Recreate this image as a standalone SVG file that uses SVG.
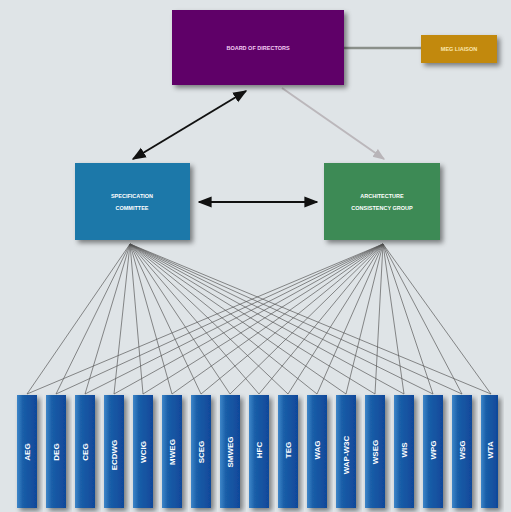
<svg xmlns="http://www.w3.org/2000/svg" width="511" height="512" viewBox="0 0 511 512">
<defs>
<filter id="sh" x="-20%" y="-20%" width="150%" height="150%"><feDropShadow dx="3" dy="3" stdDeviation="2.5" flood-color="#000" flood-opacity="0.45"/></filter>
<linearGradient id="bar" x1="0" y1="0" x2="1" y2="0"><stop offset="0" stop-color="#3d86c8"/><stop offset="0.3" stop-color="#1a5ea8"/><stop offset="1" stop-color="#10489a"/></linearGradient>
<marker id="ah" viewBox="0 0 10 10" refX="9" refY="5" markerWidth="7" markerHeight="7" orient="auto-start-reverse"><path d="M0,1 L10,5 L0,9 Z" fill="#111"/></marker>
<marker id="ahg" viewBox="0 0 10 10" refX="9" refY="5" markerWidth="6" markerHeight="6" orient="auto"><path d="M0,1 L10,5 L0,9 Z" fill="#b8b4b8"/></marker>
</defs>
<style>
.t{font-family:"Liberation Sans",Arial,sans-serif;font-weight:bold;fill:#fff;text-anchor:middle}
.s{font-size:5.5px}
.b{font-size:8px}
.f{stroke:#5a5a5a;stroke-width:0.7;fill:none}
</style>
<rect width="511" height="512" fill="#dfe4e7"/>
<g id="connectors">
<line x1="344" y1="48" x2="421" y2="48" stroke="#8a8f8a" stroke-width="2.5"/>
<line x1="246" y1="91" x2="133" y2="159" stroke="#111" stroke-width="2" marker-start="url(#ah)" marker-end="url(#ah)"/>
<line x1="282" y1="88" x2="384" y2="159" stroke="#bbb7bb" stroke-width="2" marker-end="url(#ahg)"/>
<line x1="199" y1="202" x2="317" y2="202" stroke="#111" stroke-width="2" marker-start="url(#ah)" marker-end="url(#ah)"/>
<g class="f">
<path d="M130,244L27,394M130,244L56,394M130,244L85,394M130,244L114,394M130,244L143,394M130,244L172,394M130,244L201,394M130,244L230,394M130,244L259,394M130,244L288,394M130,244L317,394M130,244L346,394M130,244L375,394M130,244L404,394M130,244L433,394M130,244L462,394M130,244L491,394"/>
<path d="M383,244L27,394M383,244L56,394M383,244L85,394M383,244L114,394M383,244L143,394M383,244L172,394M383,244L201,394M383,244L230,394M383,244L259,394M383,244L288,394M383,244L317,394M383,244L346,394M383,244L375,394M383,244L404,394M383,244L433,394M383,244L462,394M383,244L491,394"/>
</g>
</g>
<g id="board">
<rect x="172" y="10" width="172" height="75" fill="#5e0667" filter="url(#sh)"/>
<text class="t s" x="258" y="50" fill="#f0c8f0" style="fill:#f3cdf3">BOARD OF DIRECTORS</text>
</g>
<g id="liaison">
<rect x="421" y="35" width="76" height="28" fill="#c2890f" filter="url(#sh)"/>
<text class="t s" x="459" y="51" style="fill:#fbe8b0">MEG LIAISON</text>
</g>
<g id="spec">
<rect x="75" y="163" width="115" height="77" fill="#1b78a9" filter="url(#sh)"/>
<text class="t s" x="132" y="198">SPECIFICATION</text>
<text class="t s" x="132" y="210">COMMITTEE</text>
</g>
<g id="arch">
<rect x="324" y="163" width="116" height="77" fill="#3e8a55" filter="url(#sh)"/>
<text class="t s" x="382" y="198">ARCHITECTURE</text>
<text class="t s" x="382" y="210">CONSISTENCY GROUP</text>
</g>
<g id="groups">
<g id="g1"><rect x="17" y="395" width="20" height="113" fill="url(#bar)" filter="url(#sh)"/><text class="t b" transform="translate(30,452) rotate(-90)">AEG</text></g>
<g id="g2"><rect x="46" y="395" width="20" height="113" fill="url(#bar)" filter="url(#sh)"/><text class="t b" transform="translate(59,452) rotate(-90)">DEG</text></g>
<g id="g3"><rect x="75" y="395" width="20" height="113" fill="url(#bar)" filter="url(#sh)"/><text class="t b" transform="translate(88,452) rotate(-90)">CEG</text></g>
<g id="g4"><rect x="104" y="395" width="20" height="113" fill="url(#bar)" filter="url(#sh)"/><text class="t b" transform="translate(117,455) rotate(-90)">ECDWG</text></g>
<g id="g5"><rect x="133" y="395" width="20" height="113" fill="url(#bar)" filter="url(#sh)"/><text class="t b" transform="translate(146,452) rotate(-90)">WCIG</text></g>
<g id="g6"><rect x="162" y="395" width="20" height="113" fill="url(#bar)" filter="url(#sh)"/><text class="t b" transform="translate(175,452) rotate(-90)">MWEG</text></g>
<g id="g7"><rect x="191" y="395" width="20" height="113" fill="url(#bar)" filter="url(#sh)"/><text class="t b" transform="translate(204,452) rotate(-90)">SCEG</text></g>
<g id="g8"><rect x="220" y="395" width="20" height="113" fill="url(#bar)" filter="url(#sh)"/><text class="t b" transform="translate(233,452) rotate(-90)">SMWEG</text></g>
<g id="g9"><rect x="249" y="395" width="20" height="113" fill="url(#bar)" filter="url(#sh)"/><text class="t b" transform="translate(262,450) rotate(-90)">HFC</text></g>
<g id="g10"><rect x="278" y="395" width="20" height="113" fill="url(#bar)" filter="url(#sh)"/><text class="t b" transform="translate(291,450) rotate(-90)">TEG</text></g>
<g id="g11"><rect x="307" y="395" width="20" height="113" fill="url(#bar)" filter="url(#sh)"/><text class="t b" transform="translate(320,450) rotate(-90)">WAG</text></g>
<g id="g12"><rect x="336" y="395" width="20" height="113" fill="url(#bar)" filter="url(#sh)"/><text class="t b" transform="translate(349,455) rotate(-90)">WAP-W3C</text></g>
<g id="g13"><rect x="365" y="395" width="20" height="113" fill="url(#bar)" filter="url(#sh)"/><text class="t b" transform="translate(378,452) rotate(-90)">WSEG</text></g>
<g id="g14"><rect x="394" y="395" width="20" height="113" fill="url(#bar)" filter="url(#sh)"/><text class="t b" transform="translate(407,450) rotate(-90)">WIS</text></g>
<g id="g15"><rect x="423" y="395" width="20" height="113" fill="url(#bar)" filter="url(#sh)"/><text class="t b" transform="translate(436,450) rotate(-90)">WPG</text></g>
<g id="g16"><rect x="452" y="395" width="20" height="113" fill="url(#bar)" filter="url(#sh)"/><text class="t b" transform="translate(465,450) rotate(-90)">WSG</text></g>
<g id="g17"><rect x="481" y="395" width="17" height="113" fill="url(#bar)" filter="url(#sh)"/><text class="t b" transform="translate(493,450) rotate(-90)">WTA</text></g>
</g>
</svg>
